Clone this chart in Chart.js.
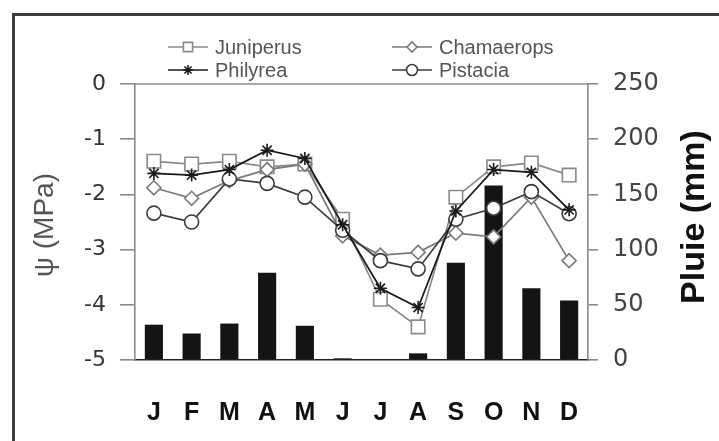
<!DOCTYPE html>
<html>
<head>
<meta charset="utf-8">
<script src="https://cdn.jsdelivr.net/npm/chart.js@4.4.1/dist/chart.umd.min.js"></script>
<style>
  html, body { margin: 0; padding: 0; background: #fff; }
  canvas { display: block; }
</style>
</head>
<body>
<canvas id="c" width="719" height="441"></canvas>
<script>
// Monthly water potential (MPa) of four shrubs, with monthly rainfall (mm)
const months = ['J', 'F', 'M', 'A', 'M', 'J', 'J', 'A', 'S', 'O', 'N', 'D'];
const rain = [32, 24, 33, 79, 31, 1.5, 0, 6, 88, 158, 65, 54];
const juniperus  = [-1.40, -1.45, -1.40, -1.50, -1.45, -2.45, -3.90, -4.40, -2.05, -1.50, -1.43, -1.65];
const philyrea   = [-1.62, -1.65, -1.55, -1.20, -1.35, -2.55, -3.70, -4.05, -2.30, -1.55, -1.60, -2.28];
const chamaerops = [-1.88, -2.07, -1.75, -1.55, -1.45, -2.75, -3.10, -3.05, -2.70, -2.77, -2.05, -3.20];
const pistacia   = [-2.34, -2.50, -1.72, -1.80, -2.05, -2.65, -3.20, -3.35, -2.45, -2.25, -1.95, -2.35];
const psiTicks = [0, -1, -2, -3, -4, -5];
const rainTicks = [0, 50, 100, 150, 200, 250];

const FONT = "'Liberation Sans', Arial, sans-serif";
const DIGITS = "'DejaVu Sans', 'Liberation Sans', sans-serif";

function lineSet(label, data, color, style, radius, order) {
  return {
    type: 'line', label, data, yAxisID: 'y', order,
    borderColor: color, borderWidth: 1.7,
    pointStyle: style, pointRadius: radius, pointHoverRadius: radius,
    pointBackgroundColor: '#fff', pointBorderColor: color, pointBorderWidth: 1.6,
    tension: 0, fill: false
  };
}

const datasets = [
  { type: 'bar', label: 'Pluie', data: rain, yAxisID: 'y1', order: 10,
    backgroundColor: '#141414', borderWidth: 0,
    categoryPercentage: 1, barPercentage: 0.48 },
  lineSet('Juniperus', juniperus, '#8a8a8a', 'rect', 9.5, 4),
  lineSet('Chamaerops', chamaerops, '#7a7a7a', 'rectRot', 7, 3),
  lineSet('Pistacia', pistacia, '#3c3c3c', 'circle', 7, 2),
  lineSet('Philyrea', philyrea, '#1a1a1a', 'star', 6.5, 1)
];

// Legend laid out in two columns above the plot
const legendLayout = [
  { label: 'Juniperus',  x: 168, y: 47, r: 6.5 },
  { label: 'Chamaerops', x: 392, y: 47, r: 5 },
  { label: 'Philyrea',   x: 168, y: 70, r: 5 },
  { label: 'Pistacia',   x: 392, y: 70, r: 5.5 }
];

const decor = {
  id: 'decor',
  beforeDraw(chart) {
    const ctx = chart.ctx;
    ctx.save();
    ctx.fillStyle = '#fff';
    ctx.fillRect(0, 0, chart.width, chart.height);
    // outer frame
    ctx.strokeStyle = '#3d3d3d';
    ctx.lineWidth = 3;
    ctx.beginPath();
    ctx.moveTo(13.5, chart.height + 2);
    ctx.lineTo(13.5, 14.5);
    ctx.lineTo(chart.width + 2, 14.5);
    ctx.stroke();
    ctx.restore();
  },
  afterDraw(chart) {
    const ctx = chart.ctx;
    const a = chart.chartArea;
    ctx.save();
    // top edge of the plot box
    ctx.strokeStyle = '#8a8a8a';
    ctx.lineWidth = 1.6;
    ctx.beginPath();
    ctx.moveTo(a.left - 1, a.top);
    ctx.lineTo(a.right + 1, a.top);
    ctx.stroke();

    // axis titles
    ctx.textAlign = 'center';
    ctx.textBaseline = 'middle';
    ctx.fillStyle = '#555';
    ctx.font = '28px ' + FONT;
    ctx.save();
    ctx.translate(45, 225);
    ctx.rotate(-Math.PI / 2);
    ctx.fillText('\u03C8 (MPa)', 0, 0);
    ctx.restore();

    ctx.fillStyle = '#111';
    ctx.font = 'bold 34px ' + FONT;
    ctx.save();
    ctx.translate(695, 217);
    ctx.rotate(-Math.PI / 2);
    ctx.fillText('Pluie (mm)', 0, 0);
    ctx.restore();

    // legend
    ctx.font = '20px ' + FONT;
    ctx.textAlign = 'left';
    for (const item of legendLayout) {
      const ds = chart.data.datasets.find(d => d.label === item.label);
      ctx.strokeStyle = ds.borderColor;
      ctx.lineWidth = 1.6;
      ctx.beginPath();
      ctx.moveTo(item.x, item.y);
      ctx.lineTo(item.x + 40, item.y);
      ctx.stroke();
      ctx.fillStyle = '#fff';
      ctx.strokeStyle = ds.pointBorderColor;
      Chart.helpers.drawPoint(ctx, {
        pointStyle: ds.pointStyle, rotation: 0, radius: item.r, borderWidth: 1.4
      }, item.x + 20, item.y);
      ctx.fillStyle = '#555';
      ctx.fillText(item.label, item.x + 47, item.y + 1);
    }
    ctx.restore();
  }
};

new Chart(document.getElementById('c'), {
  data: { labels: months, datasets },
  options: {
    responsive: false,
    animation: false,
    devicePixelRatio: 1,
    layout: { padding: { top: 84, left: 0, right: 0, bottom: 0 } },
    plugins: { legend: { display: false }, tooltip: { enabled: false } },
    scales: {
      x: {
        type: 'category',
        offset: true,
        grid: { display: false, drawTicks: false },
        border: { display: true, color: '#222', width: 1.6 },
        ticks: { color: '#111', font: { family: FONT, size: 25, weight: 'bold' }, padding: 38, maxRotation: 0, autoSkip: false },
        afterFit(s) { s.height = 81; }
      },
      y: {
        position: 'left',
        min: -5, max: 0,
        afterBuildTicks(s) { s.ticks = psiTicks.map(v => ({ value: v })); },
        grid: { drawOnChartArea: false, drawTicks: true, tickLength: 15, color: '#8a8a8a', lineWidth: 1.6 },
        border: { display: true, color: '#8a8a8a', width: 1.6 },
        ticks: { color: '#333', font: { family: DIGITS, size: 22 }, padding: 14 },
        afterFit(s) { s.width = 135; }
      },
      y1: {
        position: 'right',
        min: 0, max: 250,
        afterBuildTicks(s) { s.ticks = rainTicks.map(v => ({ value: v })); },
        grid: { drawOnChartArea: false, drawTicks: true, tickLength: 10, color: '#8a8a8a', lineWidth: 1.6 },
        border: { display: true, color: '#8a8a8a', width: 1.6 },
        ticks: { color: '#444', font: { family: DIGITS, size: 24 }, padding: 15 },
        afterFit(s) { s.width = 131; }
      }
    }
  },
  plugins: [decor]
});
</script>
</body>
</html>
